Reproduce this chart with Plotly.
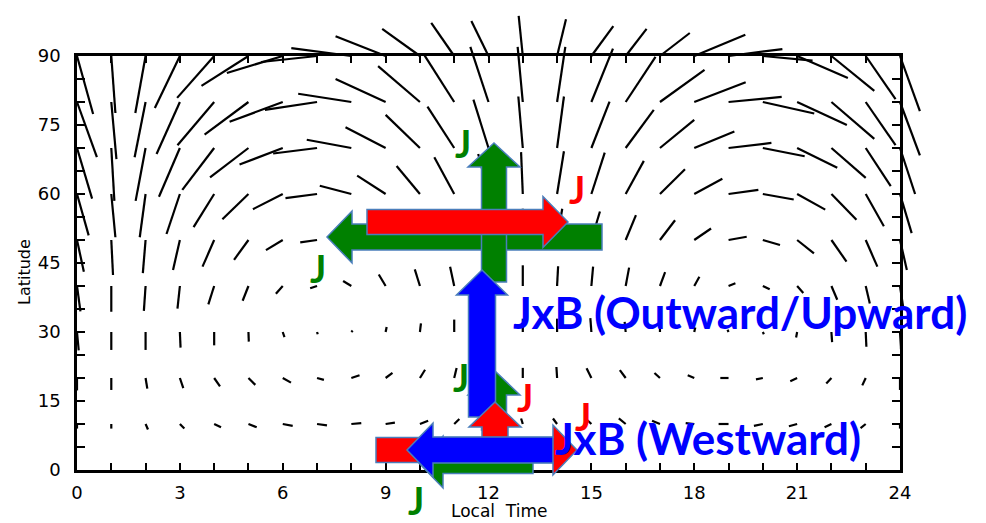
import math
import plotly.graph_objects as go

# ---------------- data ----------------
hours = list(range(25))
latitudes = [90, 80, 70, 60, 50, 40, 30, 20, 10]

# wind displacement per grid point: du in hours (local time), dv in degrees latitude
du_lat90 = [0.47, 0.12, -0.30, -0.73, -1.08, -1.37, -1.63, -1.63, -1.75, -1.46, -1.10, -0.67, -0.50, -0.12, 0.26, 0.64, 0.61, 0.87, 1.49, 1.57, 1.45, 1.48, 1.25, 0.87, 0.58]
dv_lat90 = [-12.6, -12.4, -12.4, -11.3, -9.1, -6.5, -3.7, -1.3, 1.7, 4.3, 5.9, 7.2, 7.6, 8.7, 8.0, 6.5, 5.9, 5.0, 4.6, 1.5, -1.0, -4.8, -7.6, -9.4, -12.0]

du_lat80 = [0.58, 0.15, -0.32, -0.68, -1.07, -1.28, -1.55, -1.52, -1.55, -1.46, -1.22, -0.87, -0.53, -0.15, 0.24, 0.63, 0.87, 1.30, 1.50, 1.55, 1.50, 1.45, 1.25, 0.87, 0.58]
dv_lat80 = [-12.0, -12.4, -12.0, -11.3, -9.4, -7.1, -4.3, -1.7, 1.8, 5.0, 7.8, 10.2, 12.0, 12.0, 12.0, 11.6, 9.8, 7.0, 4.3, 1.1, -2.5, -5.0, -8.0, -9.4, -11.6]

du_lat70 = [0.44, 0.09, -0.29, -0.61, -0.93, -1.12, -1.26, -1.28, -1.30, -1.17, -1.00, -0.78, -0.44, -0.13, 0.20, 0.53, 0.82, 1.00, 1.17, 1.25, 1.22, 1.17, 1.00, 0.73, 0.44]
dv_lat70 = [-11.0, -11.5, -11.5, -10.6, -9.1, -6.4, -3.6, -1.2, 1.8, 4.5, 7.2, 9.0, 10.5, 11.2, 11.2, 10.1, 8.3, 6.1, 3.6, 1.1, -1.8, -4.3, -6.5, -8.3, -10.0]

du_lat60 = [0.34, 0.12, -0.17, -0.39, -0.60, -0.76, -0.87, -0.92, -0.92, -0.83, -0.68, -0.58, -0.30, -0.05, 0.20, 0.39, 0.53, 0.73, 0.82, 0.87, 0.90, 0.82, 0.73, 0.53, 0.34]
dv_lat60 = [-9.0, -9.4, -9.4, -8.7, -7.2, -5.5, -3.3, -0.9, 1.8, 4.0, 6.1, 8.0, 8.7, 9.1, 9.3, 9.0, 7.2, 5.4, 3.3, 0.9, -1.2, -3.4, -5.6, -7.0, -8.5]

du_lat50 = [0.20, 0.05, -0.08, -0.20, -0.34, -0.42, -0.49, -0.49, -0.50, -0.48, -0.42, -0.35, -0.20, 0.00, 0.15, 0.25, 0.30, 0.44, 0.49, 0.53, 0.50, 0.49, 0.44, 0.34, 0.20]
dv_lat50 = [-6.9, -7.6, -7.2, -6.5, -5.8, -4.3, -2.2, -0.5, 1.3, 3.0, 4.5, 5.8, 6.5, 6.8, 6.8, 6.2, 5.4, 4.3, 2.5, 0.7, -1.1, -2.9, -4.7, -5.8, -6.5]

du_lat40 = [0.10, 0.00, -0.05, -0.07, -0.17, -0.17, -0.20, -0.20, -0.24, -0.20, -0.15, -0.12, -0.05, 0.00, 0.03, 0.05, 0.10, 0.15, 0.15, 0.20, 0.20, 0.18, 0.17, 0.12, 0.10]
dv_lat40 = [-5.5, -5.6, -5.4, -4.9, -4.0, -3.2, -1.7, -0.5, 1.1, 2.5, 3.6, 4.2, 4.5, 4.5, 4.3, 4.2, 4.0, 3.0, 2.0, 0.6, -0.7, -1.5, -3.0, -3.8, -5.0]

du_lat30 = [0.05, 0.00, 0.00, 0.02, 0.00, 0.01, 0.05, 0.02, 0.04, 0.03, 0.03, 0.00, 0.00, 0.00, 0.00, -0.03, -0.03, 0.00, 0.03, -0.03, 0.03, -0.03, 0.02, 0.02, 0.03]
dv_lat30 = [-4.0, -3.9, -3.9, -3.4, -2.9, -2.1, -1.1, -0.5, 0.3, 1.1, 1.9, 2.7, 2.9, 2.9, 2.9, 3.0, 2.2, 1.5, 1.0, 0.5, -0.5, -1.2, -2.2, -3.2, -3.8]

du_lat20 = [0.00, 0.00, 0.05, 0.10, 0.17, 0.20, 0.24, 0.20, 0.24, 0.20, 0.15, 0.07, 0.02, 0.00, -0.02, -0.14, -0.17, -0.16, -0.19, -0.24, -0.20, -0.20, -0.15, -0.10, 0.00]
dv_lat20 = [-2.7, -2.6, -2.3, -2.2, -1.8, -1.5, -1.0, -0.4, 0.6, 1.1, 1.8, 2.2, 2.4, 2.2, 2.4, 2.1, 1.7, 1.1, 0.6, 0.0, -0.3, -0.7, -1.2, -1.6, -2.6]

du_lat10 = [0.00, 0.00, 0.07, 0.13, 0.20, 0.24, 0.29, 0.29, 0.29, 0.27, 0.24, 0.15, 0.05, -0.05, -0.12, -0.17, -0.20, -0.23, -0.25, -0.29, -0.26, -0.24, -0.20, -0.15, 0.00]
dv_lat10 = [-1.0, -1.0, -1.2, -1.0, -0.7, -0.7, -0.4, -0.3, 0.2, 0.3, 0.7, 1.1, 1.2, 1.2, 1.2, 1.2, 1.2, 0.7, 0.2, 0.0, -0.4, -0.5, -0.7, -0.9, -1.0]

x_tick_vals = [0, 3, 6, 9, 12, 15, 18, 21, 24]
x_tick_text = ["0", "3", "6", "9", "12", "15", "18", "21", "24"]
y_tick_vals = [0, 15, 30, 45, 60, 75, 90]
y_tick_text = ["0", "15", "30", "45", "60", "75", "90"]

du_rows = {90: du_lat90, 80: du_lat80, 70: du_lat70, 60: du_lat60, 50: du_lat50,
           40: du_lat40, 30: du_lat30, 20: du_lat20, 10: du_lat10}
dv_rows = {90: dv_lat90, 80: dv_lat80, 70: dv_lat70, 60: dv_lat60, 50: dv_lat50,
           40: dv_lat40, 30: dv_lat30, 20: dv_lat20, 10: dv_lat10}

# ---------------- layout geometry ----------------
W, H = 986, 523
FL, FR, FT, FB = 77, 900, 56, 470          # frame in page pixels
kx = (FR - FL) / 24.0
ky = (FB - FT) / 90.0


def P(px, py):
    """page pixel -> paper coordinates"""
    return px / W, 1 - py / H


# ---------------- vector segments ----------------
vx, vy = [], []
for lat in latitudes:
    for h, du, dv in zip(hours, du_rows[lat], dv_rows[lat]):
        vx += [h, h + du, None]
        vy += [lat, lat + dv, None]

fig = go.Figure()
fig.add_trace(go.Scatter(x=[0, 24], y=[0, 90], mode="markers", marker=dict(opacity=0),
                         hoverinfo="skip", showlegend=False))
fig.add_trace(go.Scatter(x=vx, y=vy, mode="lines", line=dict(color="black", width=2.2),
                         xaxis="x2", yaxis="y2", hoverinfo="skip", showlegend=False))


# ---------------- block arrows (page-pixel geometry) ----------------
def arrow_path(tail, tip, sh, hh, hl):
    (x0, y0), (x1, y1) = tail, tip
    L = math.hypot(x1 - x0, y1 - y0)
    ux, uy = (x1 - x0) / L, (y1 - y0) / L
    nx, ny = -uy, ux
    bx, by = x1 - ux * hl, y1 - uy * hl
    pts = [(x0 + nx * sh, y0 + ny * sh), (bx + nx * sh, by + ny * sh), (bx + nx * hh, by + ny * hh),
           (x1, y1), (bx - nx * hh, by - ny * hh), (bx - nx * sh, by - ny * sh), (x0 - nx * sh, y0 - ny * sh)]
    pp = [P(a, b) for a, b in pts]
    return "M " + " L ".join(f"{a:.5f},{b:.5f}" for a, b in pp) + " Z"


GREEN, RED, BLUE, EDGE = "#008000", "#ff0000", "#0000ff", "#4a7ebb"
arrows = [
    # (tail, tip, shaft half-width, head half-width, head length, colour)
    ((602, 237), (327, 237), 13, 26, 25, GREEN),
    ((494, 282), (494, 143), 12.5, 26, 24, GREEN),
    ((367, 222), (568, 222), 12.5, 25.5, 25, RED),
    ((494, 430), (494, 370), 12.5, 26, 25, GREEN),
    ((482, 417), (482, 270), 13.5, 25.5, 25, BLUE),
    ((495, 440), (495, 402), 13, 26, 25, RED),
    ((376, 450), (577, 450), 12.5, 25, 24, RED),
    ((533, 462), (418, 462), 11.5, 26, 25, GREEN),
    ((553, 450), (407, 450), 13, 27, 26, BLUE),
]
shapes = []
for tail, tip, sh, hh, hl, col in arrows:
    shapes.append(dict(type="path", xref="paper", yref="paper", path=arrow_path(tail, tip, sh, hh, hl),
                       fillcolor=col, line=dict(color=EDGE, width=1.5), layer="above"))

# ---------------- text annotations ----------------
LBL = "Lato"
annotations = []
j_labels = [((463, 143), GREEN), ((577, 189), RED), ((318, 268), GREEN), ((461, 377), GREEN),
            ((525, 397), RED), ((583, 416), RED), ((416, 500), GREEN)]
for (px, py), col in j_labels:
    x, y = P(px, py)
    annotations.append(dict(x=x, y=y, xref="paper", yref="paper", text="<b>J</b>", showarrow=False,
                            font=dict(family=LBL, size=38, color=col), xanchor="center", yanchor="middle"))
for txt, (px, py) in [("JxB (Outward/Upward)", (511, 312)), ("JxB (Westward)", (553, 438))]:
    x, y = P(px, py)
    annotations.append(dict(x=x, y=y, xref="paper", yref="paper", text=f"<b>{txt}</b>", showarrow=False,
                            font=dict(family=LBL, size=44, color=BLUE), xanchor="left", yanchor="middle"))
x, y = P(499, 511)
annotations.append(dict(x=x, y=y, xref="paper", yref="paper", text="Local\u00a0\u00a0Time", showarrow=False,
                        font=dict(family="DejaVu Sans", size=17, color="black"), xanchor="center", yanchor="middle"))
x, y = P(24, 272)
annotations.append(dict(x=x, y=y, xref="paper", yref="paper", text="Latitude", showarrow=False, textangle=-90,
                        font=dict(family="DejaVu Sans", size=16, color="black"), xanchor="center", yanchor="middle"))

fl, ft = P(FL, FT)
fr, fb = P(FR, FB)
tickfont = dict(family="DejaVu Sans", size=18, color="black")
fig.update_layout(
    width=W, height=H, margin=dict(l=0, r=0, t=0, b=0, pad=0, autoexpand=False),
    paper_bgcolor="white", plot_bgcolor="rgba(0,0,0,0)",
    xaxis=dict(domain=[fl, fr], range=[0, 24], tickvals=x_tick_vals, ticktext=x_tick_text,
               ticks="inside", ticklen=7, tickwidth=2, tickcolor="black",
               minor=dict(dtick=1, ticks="inside", ticklen=7, tickwidth=2, tickcolor="black"),
               showline=True, linewidth=2.5, linecolor="black", mirror="ticks", automargin=False,
               showgrid=False, zeroline=False, tickfont=tickfont, ticklabelstandoff=5, anchor="y"),
    yaxis=dict(domain=[fb, ft], range=[0, 90], tickvals=y_tick_vals, ticktext=y_tick_text,
               ticks="inside", ticklen=8, tickwidth=2, tickcolor="black",
               minor=dict(dtick=5, ticks="inside", ticklen=8, tickwidth=2, tickcolor="black"),
               showline=True, linewidth=2.5, linecolor="black", mirror="ticks", automargin=False,
               showgrid=False, zeroline=False, tickfont=tickfont, ticklabelstandoff=10, anchor="x"),
    xaxis2=dict(domain=[0, 1], range=[-FL / kx, (W - FL) / kx], automargin=False,
                visible=False, anchor="y2", showgrid=False),
    yaxis2=dict(domain=[0, 1], range=[-(H - FB) / ky, FB / ky], automargin=False,
                visible=False, anchor="x2", showgrid=False),
    shapes=shapes, annotations=annotations, showlegend=False,
)

fig.write_html("out.html", config={"displayModeBar": False},
               post_script="document.body.style.margin='0';document.documentElement.style.overflow='hidden';")
